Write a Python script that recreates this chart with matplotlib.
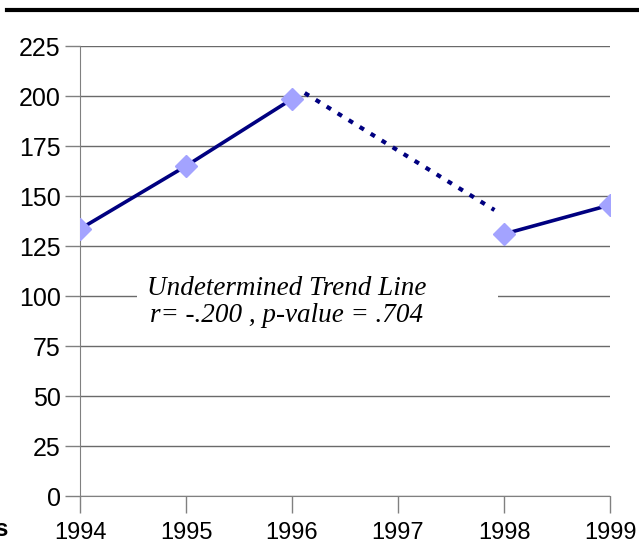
import matplotlib
matplotlib.use("Agg")
import matplotlib.pyplot as plt
from matplotlib.lines import Line2D
from matplotlib.patches import Rectangle

years = [1994, 1995, 1996, 1998, 1999]
values = [133.5, 165, 198.5, 131, 145.5]
# dotted connector across the missing year
gap_x = [1996.12, 1997.91]
gap_y = [201.5, 143]
xticks = [1994, 1995, 1996, 1997, 1998, 1999]
yticks = list(range(0, 226, 25))

plt.rcParams['font.family'] = ['Liberation Sans', 'DejaVu Sans']

fig = plt.figure(figsize=(6.39, 5.49), dpi=100)
ax = fig.add_axes([80 / 639, 1 - 496 / 549, 530 / 639, 450 / 549])

navy = '#000080'
ax.plot(years[:3], values[:3], color=navy, lw=2.6, zorder=3)
ax.plot(years[3:], values[3:], color=navy, lw=2.6, zorder=3)
ax.plot(gap_x, gap_y, color=navy, lw=3, linestyle=(0, (1.2, 1.9)),
        dash_capstyle='butt', zorder=3)
ax.plot(years, values, linestyle='none', marker='D', markersize=11.5,
        markerfacecolor='#a3a3ff', markeredgecolor='#a3a3ff', zorder=4)

ax.set_xlim(1994, 1999)
ax.set_ylim(0, 225)
ax.set_xticks(xticks)
ax.set_yticks(yticks)
ax.tick_params(axis='x', length=12, width=1, color='#808080', labelsize=17, pad=7)
ax.tick_params(axis='y', length=11, width=1, color='#808080', labelsize=18, pad=3)
ax.grid(axis='y', color='#6a6a6a', lw=1)
ax.set_axisbelow(True)
for s in ['top', 'right']:
    ax.spines[s].set_visible(False)
for s in ['left', 'bottom']:
    ax.spines[s].set_color('#808080')

# white label box interrupting the 100 gridline
ax.add_patch(Rectangle((1994.54, 84), 3.40, 28, facecolor='white',
                       edgecolor='none', zorder=2))
ax.text(1995.95, 97, 'Undetermined Trend Line\nr= -.200 , p-value = .704',
        ha='center', va='center', fontsize=19.5, style='italic',
        family=['Liberation Serif', 'DejaVu Serif'], linespacing=1.15, zorder=5)

fig.add_artist(Line2D([7 / 639, 1], [1 - 10 / 549, 1 - 10 / 549], color='black', lw=3))
fig.text(9 / 639, 1 - 530 / 549, 'Years', ha='right', va='center',
         fontsize=17, fontweight='bold')

fig.savefig('out.png', dpi=100)
